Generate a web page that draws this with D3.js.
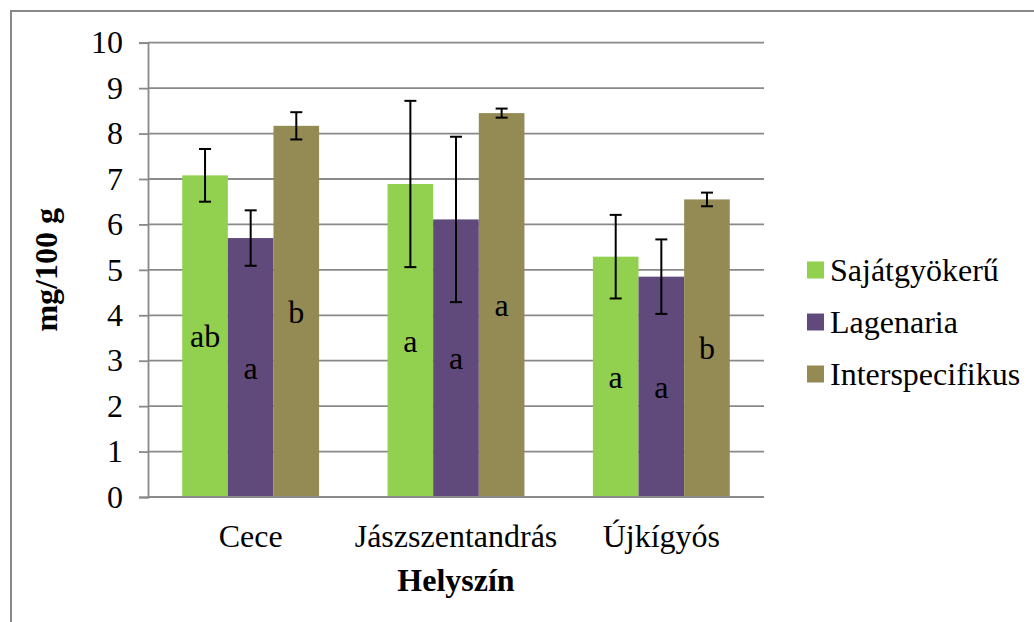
<!DOCTYPE html>
<html><head><meta charset="utf-8">
<script src="https://cdn.jsdelivr.net/npm/d3@7"></script>
<style>body{margin:0;background:#fff;}svg{display:block;}svg text{font-family:"Liberation Serif","Times New Roman",serif;}</style>
</head><body>
<script>
const categories = ["Cece", "Jászszentandrás", "Újkígyós"];
const seriesNames = ["Sajátgyökerű", "Lagenaria", "Interspecifikus"];
const colors = ["#92D050", "#604A7B", "#948A54"];
const valSajat = [7.08, 6.89, 5.29];
const valLagenaria = [5.70, 6.11, 4.85];
const valInter = [8.17, 8.45, 6.55];
const errSajat = [0.58, 1.83, 0.92];
const errLagenaria = [0.61, 1.82, 0.82];
const errInter = [0.30, 0.10, 0.15];
const letterSajat = ["ab", "a", "a"];
const letterLagenaria = ["a", "a", "a"];
const letterInter = ["b", "a", "b"];
const yTicks = [0,1,2,3,4,5,6,7,8,9,10];

const values = [valSajat, valLagenaria, valInter];
const errs = [errSajat, errLagenaria, errInter];
const letters = [letterSajat, letterLagenaria, letterInter];

const W = 1034, H = 622, FS = 32;
const svg = d3.select("body").append("svg").attr("width", W).attr("height", H);

// outer border
svg.append("rect").attr("x", 11).attr("y", 11).attr("width", W + 20).attr("height", H + 20)
  .attr("fill", "none").attr("stroke", "#888").attr("stroke-width", 2);

const L = 148, R = 764, T = 42.7, B = 497;
const y = d3.scaleLinear().domain([0, 10]).range([B, T]);
const x0 = d3.scaleBand().domain(categories).range([L, R]).paddingInner(1/3).paddingOuter(1/6);
const x1 = d3.scaleBand().domain(seriesNames).range([0, x0.bandwidth()]);

// gridlines
svg.append("g").selectAll("line").data(yTicks).join("line")
  .attr("x1", L).attr("x2", R).attr("y1", d => y(d)).attr("y2", d => y(d))
  .attr("stroke", "#898989").attr("stroke-width", 1.8);

// y axis
const yAxis = svg.append("g").attr("transform", `translate(${L},0)`)
  .call(d3.axisLeft(y).tickValues(yTicks).tickSize(9).tickPadding(16).tickFormat(d3.format("d")));
yAxis.attr("font-family", null);
yAxis.select(".domain").attr("stroke", "#898989").attr("stroke-width", 1.8);
yAxis.selectAll(".tick line").attr("stroke", "#898989").attr("stroke-width", 1.8);
yAxis.selectAll(".tick text").attr("font-size", FS).attr("fill", "#000");

// bars
const groups = svg.append("g").selectAll("g").data(categories).join("g")
  .attr("transform", c => `translate(${x0(c)},0)`);

seriesNames.forEach((s, si) => {
  groups.append("rect")
    .attr("x", x1(s)).attr("width", x1.bandwidth())
    .attr("y", (c, ci) => y(values[si][ci]))
    .attr("height", (c, ci) => B - y(values[si][ci]))
    .attr("fill", colors[si]);
});

// bottom axis line over bars
svg.append("line").attr("x1", L).attr("x2", R).attr("y1", B).attr("y2", B)
  .attr("stroke", "#898989").attr("stroke-width", 1.8);

// error bars
seriesNames.forEach((s, si) => {
  const cx = c => x1(s) + x1.bandwidth() / 2;
  groups.append("line")
    .attr("x1", cx).attr("x2", cx)
    .attr("y1", (c, ci) => y(values[si][ci] + errs[si][ci]))
    .attr("y2", (c, ci) => y(values[si][ci] - errs[si][ci]))
    .attr("stroke", "#000").attr("stroke-width", 2);
  [1, -1].forEach(sg => {
    groups.append("line")
      .attr("x1", c => cx(c) - 6).attr("x2", c => cx(c) + 6)
      .attr("y1", (c, ci) => y(values[si][ci] + sg * errs[si][ci]))
      .attr("y2", (c, ci) => y(values[si][ci] + sg * errs[si][ci]))
      .attr("stroke", "#000").attr("stroke-width", 2);
  });
  // letters
  groups.append("text")
    .attr("x", cx)
    .attr("y", (c, ci) => y(values[si][ci] / 2))
    .attr("dy", "0.35em")
    .attr("text-anchor", "middle")
    .attr("font-size", FS).attr("fill", "#000")
    .text((c, ci) => letters[si][ci]);
});

// category labels
svg.append("g").selectAll("text").data(categories).join("text")
  .attr("x", c => x0(c) + x0.bandwidth() / 2).attr("y", 547)
  .attr("text-anchor", "middle").attr("font-size", FS).attr("fill", "#000")
  .text(c => c);

// axis titles
svg.append("text").attr("x", (L + R) / 2).attr("y", 591).attr("text-anchor", "middle")
  .attr("font-size", FS).attr("font-weight", "bold").text("Helyszín");
svg.append("text").attr("transform", `translate(57,${(T + B) / 2}) rotate(-90)`)
  .attr("text-anchor", "middle").attr("font-size", FS).attr("font-weight", "bold").text("mg/100 g");

// legend
const leg = svg.append("g").selectAll("g").data(seriesNames).join("g")
  .attr("transform", (d, i) => `translate(807,${270 + i * 52})`);
leg.append("rect").attr("x", 0).attr("y", -8.5).attr("width", 17).attr("height", 17)
  .attr("fill", (d, i) => colors[i]);
leg.append("text").attr("x", 23).attr("y", 0).attr("dy", "0.35em")
  .attr("font-size", FS).attr("fill", "#000").text(d => d);
</script>
</body></html>
